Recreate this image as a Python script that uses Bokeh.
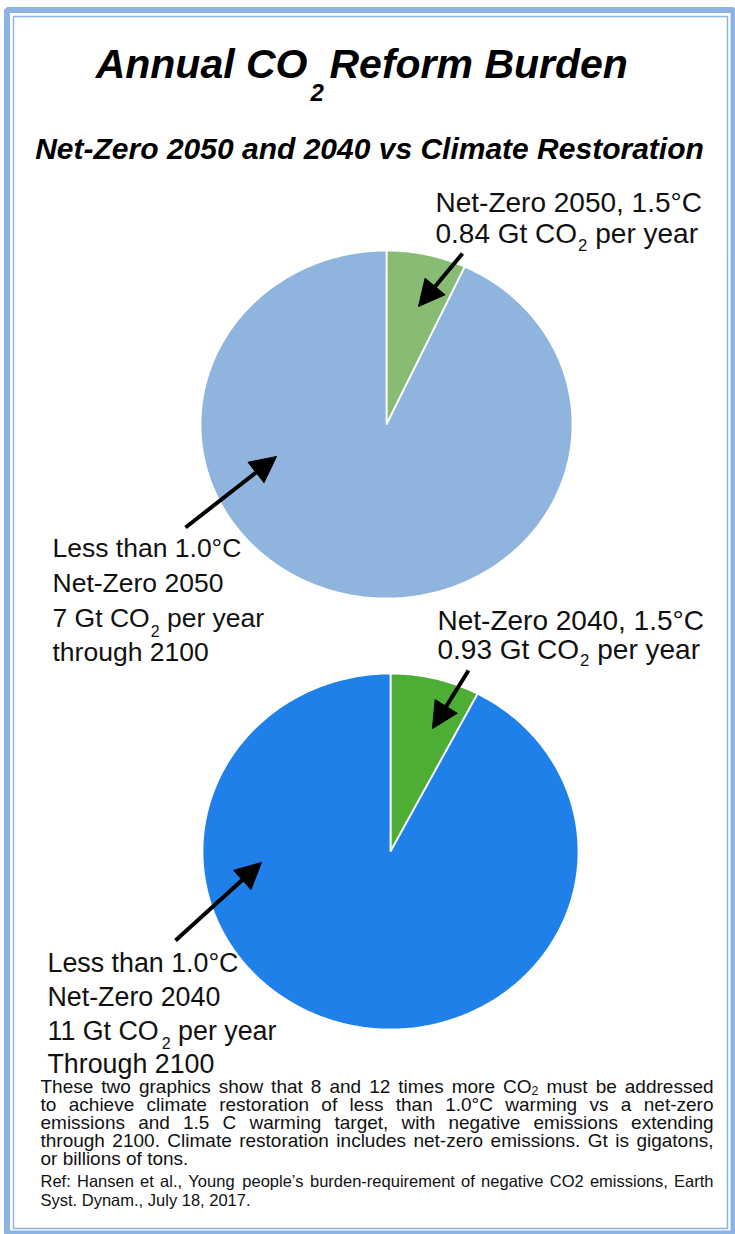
import numpy as np
from bokeh.plotting import figure
from bokeh.models import Range1d, Arrow, NormalHead
from bokeh.core.properties import value
from bokeh.embed import file_html
from bokeh.resources import INLINE

# ---------------- data ----------------
title_line1 = ["Annual CO", "2", "Reform Burden"]
title_line2 = "Net-Zero 2050 and 2040 vs Climate Restoration"

slice_names = ["Net-Zero, 1.5°C", "Less than 1.0°C (climate restoration)"]
pie1_values = [0.84, 11.3]      # slice sizes as drawn in the picture
pie2_values = [0.93, 11.2]
pie1_colors = ["#88BC74", "#8FB4DE"]
pie2_colors = ["#4DAD35", "#1F80EA"]

label1_top = ["Net-Zero 2050, 1.5°C", ["0.84 Gt CO", "2", "per year"]]
label1_side = ["Less than 1.0°C", "Net-Zero 2050", ["7 Gt CO", "2", "per year"], "through 2100"]
label2_top = ["Net-Zero 2040, 1.5°C", ["0.93 Gt CO", "2", "per year"]]
label2_side = ["Less than 1.0°C", "Net-Zero 2040", ["11 Gt CO", "2", "per year"], "Through 2100"]

para_lines = [
    "These two graphics show that 8 and 12 times more CO_2 must be addressed",
    "to achieve climate restoration of less than 1.0°C warming vs a net-zero",
    "emissions and 1.5 C warming target, with negative emissions extending",
    "through 2100. Climate restoration includes net-zero emissions. Gt is gigatons,",
    "or billions of tons.",
]
ref_lines = [
    "Ref: Hansen et al., Young people\u2019s burden-requirement of negative CO2 emissions, Earth",
    "Syst. Dynam., July 18, 2017.",
]

# ---------------- helpers ----------------
AW = {' ': 278, '!': 278, "'": 191, '\u2019': 222, '(': 333, ')': 333, ',': 278, '-': 333, '.': 278,
      ':': 278, '°': 400, '_': 556}
for c in '0123456789':
    AW[c] = 556
AW.update(dict(A=667, B=667, C=722, D=722, E=667, F=611, G=778, H=722, I=278, J=500, K=667, L=556,
               M=833, N=722, O=778, P=667, Q=778, R=722, S=667, T=611, U=722, V=667, W=944, X=667,
               Y=667, Z=611))
AW.update(dict(a=556, b=556, c=500, d=556, e=556, f=278, g=556, h=556, i=222, j=222, k=500, l=222,
               m=833, n=556, o=556, p=556, q=556, r=333, s=500, t=278, u=556, v=500, w=722, x=500,
               y=500, z=500))


def tw(s, size):
    return sum(AW.get(c, 556) for c in s) / 1000.0 * size


def by(baseline, size):
    # visual baseline -> text y parameter (compensates the observed offset of svg text)
    return baseline - 0.37 * size


BODY = value("Liberation Sans")
TITLE = value("Liberation Sans")

W, H = 735, 1234
p = figure(width=W, height=H, x_range=Range1d(0, W), y_range=Range1d(H, 0),
           output_backend="svg", toolbar_location=None, min_border=0,
           min_border_left=0, min_border_right=0, min_border_top=0, min_border_bottom=0)
p.axis.visible = False
p.grid.visible = False
p.outline_line_color = None
p.background_fill_color = "white"
p.border_fill_color = "white"

# frame
FRAME = "#8DB3E2"
p.quad(left=[6.5], right=[733], top=[9.5], bottom=[1233], fill_color=None, line_color=FRAME, line_width=6)
p.quad(left=[13], right=[727], top=[16], bottom=[1228], fill_color=None, line_color=FRAME, line_width=1.5)


def pie(values, colors, cx, cy, rx, ry):
    v = np.asarray(values, float)
    ends = np.cumsum(v) / v.sum() * 2 * np.pi
    starts = np.r_[0.0, ends[:-1]]
    xs, ys = [], []
    for a0, a1 in zip(starts, ends):
        t = np.linspace(a0, a1, max(int((a1 - a0) * 80), 10))
        xs.append(np.r_[cx, cx + rx * np.sin(t)].tolist())
        ys.append(np.r_[cy, cy - ry * np.cos(t)].tolist())
    p.patches(xs, ys, fill_color=colors, line_color="white", line_width=1.8)


pie(pie1_values, pie1_colors, 386, 424, 186, 174)
pie(pie2_values, pie2_colors, 390, 851, 188, 178)

# title
p.text(x=[307], y=[by(79, 41)], text=[title_line1[0]], text_font=TITLE, text_font_style="bold italic",
       text_font_size="41px", text_align="right", text_baseline="alphabetic", text_color="black")
p.text(x=[310], y=[by(101, 24)], text=[title_line1[1]], text_font=TITLE, text_font_style="bold italic",
       text_font_size="24px", text_align="left", text_baseline="alphabetic", text_color="black")
p.text(x=[329], y=[by(79, 41)], text=[title_line1[2]], text_font=TITLE, text_font_style="bold italic",
       text_font_size="41px", text_align="left", text_baseline="alphabetic", text_color="black")
p.text(x=[369], y=[by(159, 30)], text=[title_line2], text_font=TITLE, text_font_style="bold italic",
       text_font_size="30px", text_align="center", text_baseline="alphabetic", text_color="black")


def label(lines, x0, baselines, size, sub_drop):
    for ln, yb in zip(lines, baselines):
        yb = by(yb, size)
        if isinstance(ln, str):
            p.text(x=[x0], y=[yb], text=[ln], text_font=BODY, text_font_size=f"{size}px",
                   text_baseline="alphabetic", text_color="#111111")
        else:
            main, sub, rest = ln
            subsize = size * 0.6
            x1 = x0 + tw(main, size)
            x2 = x1 + tw(sub, subsize) + tw(" ", size)
            p.text(x=[x0], y=[yb], text=[main], text_font=BODY, text_font_size=f"{size}px",
                   text_baseline="alphabetic", text_color="#111111")
            p.text(x=[x1 + 1], y=[yb + sub_drop], text=[sub], text_font=BODY,
                   text_font_size=f"{subsize:.1f}px", text_baseline="alphabetic", text_color="#111111")
            p.text(x=[x2 + 1], y=[yb], text=[rest], text_font=BODY, text_font_size=f"{size}px",
                   text_baseline="alphabetic", text_color="#111111")


label(label1_top, 435, [212, 243], 28, 12)
label(label1_side, 52, [557, 592, 627, 661], 26.5, 13)
label(label2_top, 437, [630, 659], 28, 11)
label(label2_side, 47, [972, 1006, 1040, 1073], 26.8, 12)

# arrows
arrows = [((462, 253), (418, 306)), ((185, 527), (276, 456)),
          ((468, 670), (432, 728)), ((175, 940), (261, 862))]
for (xs_, ys_), (xe, ye) in arrows:
    p.add_layout(Arrow(end=NormalHead(size=26, fill_color="black", line_color="black", line_width=1),
                       x_start=xs_, y_start=ys_, x_end=xe, y_end=ye, line_width=4, line_color="black"))


# paragraph (justified)
def para_line(line, x0, x1, yb, size, justify):
    yb = by(yb, size)
    words = line.split(" ")
    subsize = size * 0.65
    widths = []
    for w in words:
        if w.endswith("_2"):
            widths.append(tw(w[:-2], size) + tw("2", subsize))
        else:
            widths.append(tw(w, size))
    if justify and len(words) > 1:
        gap = (x1 - x0 - sum(widths)) / (len(words) - 1)
    else:
        gap = tw(" ", size)
    xs, ts, sx, st = [], [], [], []
    x = x0
    for w, wd in zip(words, widths):
        if w.endswith("_2"):
            xs.append(x); ts.append(w[:-2])
            sx.append(x + tw(w[:-2], size)); st.append("2")
        else:
            xs.append(x); ts.append(w)
        x += wd + gap
    p.text(x=xs, y=[yb] * len(xs), text=ts, text_font=BODY, text_font_size=f"{size}px",
           text_baseline="alphabetic", text_color="#111111")
    if sx:
        p.text(x=sx, y=[yb + 4] * len(sx), text=st, text_font=BODY, text_font_size=f"{subsize:.1f}px",
               text_baseline="alphabetic", text_color="#111111")


pb = [1093, 1111, 1129, 1147, 1165]
for i, (ln, yb) in enumerate(zip(para_lines, pb)):
    para_line(ln, 40, 713, yb, 19, i < len(para_lines) - 1)
rb = [1187, 1206]
for i, (ln, yb) in enumerate(zip(ref_lines, rb)):
    para_line(ln, 40, 713, yb, 16.5, i == 0)

open("out.html", "w").write(file_html(p, INLINE))
